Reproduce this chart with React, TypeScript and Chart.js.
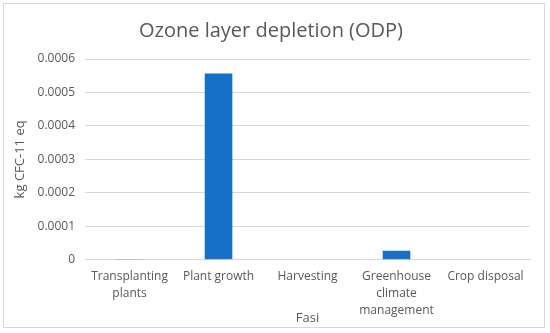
import React, { useEffect, useRef } from "react";
import { Chart, registerables } from "chart.js";
Chart.register(...registerables);

const categories: (string | string[])[] = [
  ["Transplanting", "plants"],
  "Plant growth",
  "Harvesting",
  ["Greenhouse", "climate", "management"],
  "Crop disposal",
];
const values = [0.000001, 0.000557, 0.0, 0.000027, 0.0];
const yTicks = [0, 0.0001, 0.0002, 0.0003, 0.0004, 0.0005, 0.0006];
const titleText = "Ozone layer depletion (ODP)";
const yTitle = "kg CFC-11 eq";
const xTitle = "Fasi";

export default function App() {
  const ref = useRef<HTMLCanvasElement>(null);
  useEffect(() => {
    document.body.style.margin = "0";
    const font = "'Open Sans', 'DejaVu Sans', sans-serif";
    const chart = new Chart(ref.current!, {
      type: "bar",
      data: {
        labels: categories,
        datasets: [
          {
            data: values,
            backgroundColor: "#1770C8",
            borderWidth: 0,
            barPercentage: 0.62,
            categoryPercentage: 0.5,
          },
        ],
      },
      options: {
        animation: false,
        responsive: false,
        layout: { padding: { left: 8, right: 14, top: 0, bottom: 0 } },
        plugins: {
          legend: { display: false },
          tooltip: { enabled: false },
          title: {
            display: true,
            text: titleText,
            color: "#595959",
            font: { family: font, size: 20, weight: "normal", lineHeight: 1.2 },
            padding: { top: 15, bottom: 16 },
          },
        },
        scales: {
          x: {
            grid: { display: false, drawTicks: false },
            border: { display: true, color: "#d9d9d9", width: 1 },
            ticks: {
              color: "#595959",
              font: { family: font, size: 12, lineHeight: 1.38 },
              maxRotation: 0,
              autoSkip: false,
              padding: 9,
            },
            title: {
              display: true,
              text: xTitle,
              color: "#595959",
              font: { family: font, size: 13, lineHeight: 1.2 },
              padding: { top: -17, bottom: 1 },
            },
          },
          y: {
            min: 0,
            max: 0.0006,
            afterBuildTicks: (axis: any) => {
              axis.ticks = yTicks.map((v) => ({ value: v }));
            },
            grid: { color: "#d9d9d9", drawTicks: false },
            border: { display: false },
            ticks: {
              color: "#595959",
              font: { family: font, size: 12 },
              padding: 10,
              callback: (v: any) => String(Number(v)),
            },
            title: {
              display: true,
              text: yTitle,
              color: "#595959",
              font: { family: font, size: 13 },
              padding: { top: 0, bottom: 0 },
            },
          },
        },
      },
    } as any);
    return () => chart.destroy();
  }, []);
  return (
    <div
      style={{
        position: "absolute",
        left: 3,
        top: 3,
        width: 542,
        height: 325,
        border: "1px solid #d9d9d9",
        boxSizing: "border-box",
      }}
    >
      <canvas ref={ref} width={540} height={323} />
    </div>
  );
}
